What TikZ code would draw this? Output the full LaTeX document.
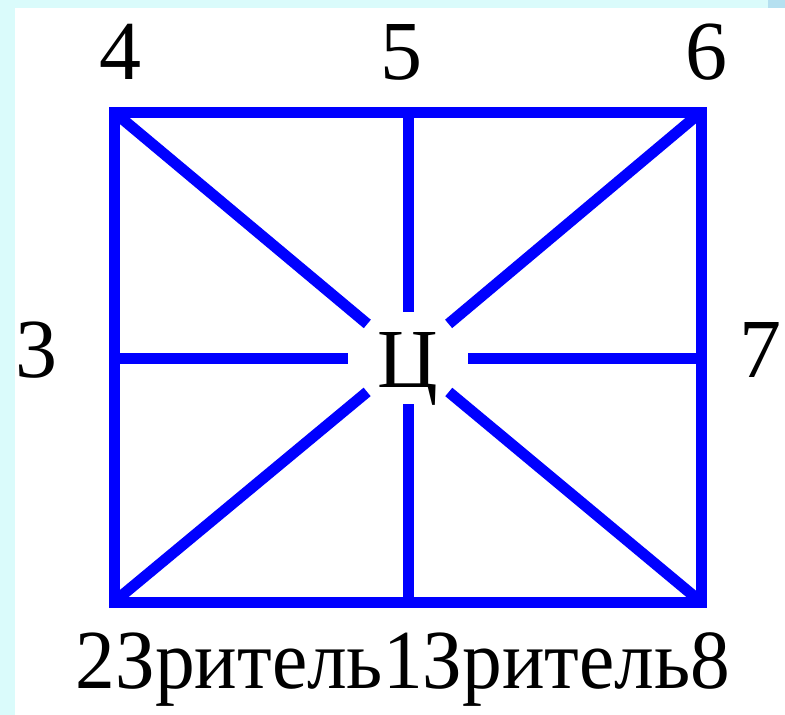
\documentclass[tikz,border=0pt]{standalone}
\usepackage{fontspec}
\setmainfont{Liberation Serif}
\usetikzlibrary{shapes.geometric}
\definecolor{FrameBlue} {HTML}{0000FF}
\definecolor{EdgeCyan}  {HTML}{DAFBFB}
\definecolor{CornerBlue}{HTML}{B5E0F0}

\begin{document}
\begin{tikzpicture}[x=1pt,y=-1pt,
    frame/.style={draw=FrameBlue,line width=11pt},
    numlabel/.style={font=\fontsize{84}{84}\selectfont,inner sep=0pt,anchor=base}]
  \useasboundingbox (0,0) rectangle (785,715);
  \fill[EdgeCyan] (0,0) rectangle (15,715);
  \fill[EdgeCyan] (0,0) rectangle (768,8);
  \fill[CornerBlue] (768,0) rectangle (785,8);

  % corners and midpoints of the hall
  \coordinate (p4) at (114,112);
  \coordinate (p5) at (408,112);
  \coordinate (p6) at (701,112);
  \coordinate (p7) at (701,358);
  \coordinate (p8) at (701,602);
  \coordinate (p1) at (408,602);
  \coordinate (p2) at (114,602);
  \coordinate (p3) at (114,358);

  \node[ellipse,minimum width=120pt,minimum height=92pt,inner sep=0pt] (hub) at (408,358) {};
  \node[numlabel] (tse) at (408,387) {Ц};

  \draw[frame] (p4) -- (p6) -- (p8) -- (p2) -- cycle;
  \foreach \p in {p1,p2,p3,p4,p5,p6,p7,p8}
    \draw[frame] (\p) -- (hub);

  \node[numlabel] (n4) at (120,79) {4};
  \node[numlabel] (n5) at (401,79) {5};
  \node[numlabel] (n6) at (706,79) {6};
  \node[numlabel] (n3) at (37,377) {3};
  \node[numlabel] (n7) at (760,377) {7};
  \node[numlabel] (bottom) at (403,688) {\scalebox{0.945}[1]{2Зритель1Зритель8}};
\end{tikzpicture}
\end{document}
